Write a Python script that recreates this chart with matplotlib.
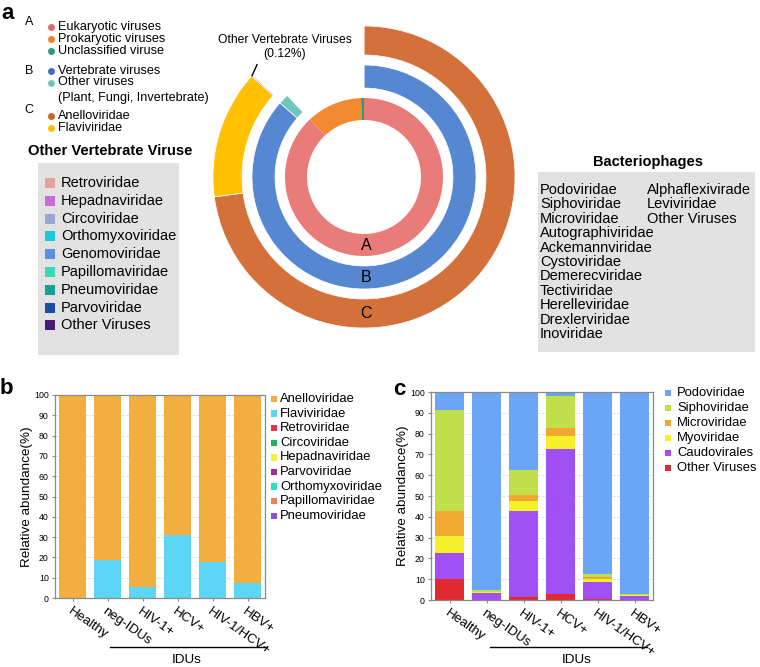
import matplotlib
matplotlib.use("Agg")
import matplotlib.pyplot as plt
from matplotlib.patches import Rectangle
import numpy as np

plt.rcParams['font.family'] = ['Liberation Sans', 'DejaVu Sans']

# ---- panel a : nested donut (percent of full circle, last = blank) ----
ring_a_vals = [88.0, 11.4, 0.6]
ring_a_cols = ['#E97B79', '#F28A32', '#2A9A80']
ring_b_vals = [86.5, 1.5, 12.0]
ring_b_cols = ['#5588D0', '#6CC9B9', 'none']
ring_c_vals = [72.9, 13.75, 0.12, 13.23]
ring_c_cols = ['#D4713A', '#FFC000', '#3A5A90', 'none']

top_legend = [('A', [('Eukaryotic viruses', '#E0686C'), ('Prokaryotic viruses', '#F07E2E'),
                     ('Unclassified viruse', '#2A9A80')]),
              ('B', [('Vertebrate viruses', '#3F6FC8'),
                     ('Other viruses\n(Plant, Fungi, Invertebrate)', '#6CC9B9')]),
              ('C', [('Anelloviridae', '#D0602E'), ('Flaviviridae', '#FFC000')])]

other_vert = ['Retroviridae', 'Hepadnaviridae', 'Circoviridae', 'Orthomyxoviridae',
              'Genomoviridae', 'Papillomaviridae', 'Pneumoviridae', 'Parvoviridae',
              'Other Viruses']
other_vert_cols = ['#E5A0A0', '#C86DD7', '#9BA6D4', '#1FC8D8', '#5B8EDE', '#3AD8B8',
                   '#17A09A', '#1A4FA0', '#4A1A7A']
phages_col1 = ['Podoviridae', 'Siphoviridae', 'Microviridae', 'Autographiviridae',
               'Ackemannviridae', 'Cystoviridae', 'Demerecviridae', 'Tectiviridae',
               'Herelleviridae', 'Drexlerviridae', 'Inoviridae']
phages_col2 = ['Alphaflexivirade', 'Leviviridae', 'Other Viruses']

# ---- panels b, c ----
groups = ['Healthy', 'neg-IDUs', 'HIV-1+', 'HCV+', 'HIV-1/HCV+', 'HBV+']

b_names = ['Anelloviridae', 'Flaviviridae', 'Retroviridae', 'Circoviridae', 'Hepadnaviridae',
           'Parvoviridae', 'Orthomyxoviridae', 'Papillomaviridae', 'Pneumoviridae']
b_cols = ['#F2AE3F', '#5DD5F5', '#E8343C', '#2BB05A', '#F5F03A', '#A52A9A', '#2EE0B8',
          '#F08050', '#8B50E0']
flavi = [0.0, 18.9, 5.6, 30.8, 17.5, 7.4]
b_vals = {'Anelloviridae': [100 - v for v in flavi], 'Flaviviridae': flavi}
for n in b_names[2:]:
    b_vals[n] = [0, 0, 0, 0, 0, 0]

c_names = ['Podoviridae', 'Siphoviridae', 'Microviridae', 'Myoviridae', 'Caudovirales',
           'Other Viruses']
c_cols = ['#6AA6F5', '#BFE04A', '#F0A830', '#F5F02A', '#A050F5', '#E02A30']
c_vals = {
    'Other Viruses': [10.1, 0.2, 1.3, 3.0, 0.5, 0.1],
    'Caudovirales':  [12.6, 3.2, 41.4, 69.8, 8.3, 2.0],
    'Myoviridae':    [8.0, 0.4, 4.8, 5.9, 1.1, 0.2],
    'Microviridae':  [12.2, 0.2, 3.2, 4.0, 1.0, 0.1],
    'Siphoviridae':  [48.3, 0.6, 12.0, 15.4, 1.6, 0.3],
    'Podoviridae':   [8.8, 95.4, 37.3, 1.9, 87.5, 97.3],
}

fig = plt.figure(figsize=(7.6, 6.67), dpi=100)

# overlay in pixel coords for legends / annotations
ov = fig.add_axes([0, 0, 1, 1])
ov.set_xlim(0, 760)
ov.set_ylim(667, 0)
ov.axis('off')

# donut
ax = fig.add_axes([204 / 760, 1 - 337 / 667, 320 / 760, 320 / 667])
wp = dict(edgecolor='white', linewidth=0.5)
ax.pie(ring_c_vals, radius=151, colors=ring_c_cols, startangle=90, counterclock=False,
       wedgeprops=dict(width=29, **wp))
ax.pie(ring_b_vals, radius=112, colors=ring_b_cols, startangle=90, counterclock=False,
       wedgeprops=dict(width=23, **wp))
ax.pie(ring_a_vals, radius=79, colors=ring_a_cols, startangle=90, counterclock=False,
       wedgeprops=dict(width=22, linewidth=0))
ax.set_xlim(-160, 160)
ax.set_ylim(-160, 160)
ax.set_aspect('equal')
ax.axis('off')
for lab, r in [('A', 68), ('B', 100.5), ('C', 136.5)]:
    ax.text(2, -r, lab, ha='center', va='center', fontsize=11.5)
# leader for the tiny "other vertebrate" slice
ang = np.deg2rad(90 - 3.6 * (ring_c_vals[0] + ring_c_vals[1] + ring_c_vals[2] / 2))
px, py = 151 * np.cos(ang), 151 * np.sin(ang)
ax.plot([px, px + 5], [py, py + 11], color='black', lw=1)
ov.text(285, 47, 'Other Vertebrate Viruses\n(0.12%)', ha='center', va='center',
        fontsize=8.7, linespacing=1.15)

# top-left legend
ov.text(1, 19, 'a', fontsize=16, fontweight='bold', va='baseline')
rows = {'A': [27, 39, 51], 'B': [71, 83], 'C': [116, 128]}
letter_y = {'A': 22, 'B': 71, 'C': 110}
for letter, items in top_legend:
    ov.text(29, letter_y[letter], letter, ha='center', va='center', fontsize=9)
    for (name, col), y in zip(items, rows[letter]):
        ov.plot(51, y, 'o', color=col, ms=5, mec='none')
        if '\n' in name:
            ov.text(58, y - 7, name, va='top', fontsize=9.1, linespacing=1.45)
        else:
            ov.text(58, y, name, va='center', fontsize=9.1)

# other vertebrate viruses box
ov.text(110, 151, 'Other Vertebrate Viruse', ha='center', va='center', fontsize=10.6,
        fontweight='bold')
ov.add_patch(Rectangle((38, 163), 141, 192, color='#E2E2E2', lw=0))
for i, (name, col) in enumerate(zip(other_vert, other_vert_cols)):
    y = 183 + i * 17.8
    ov.add_patch(Rectangle((45, y - 5), 10, 10, color=col, lw=0))
    ov.text(61, y, name, va='center', fontsize=10.5)

# bacteriophages box
ov.text(648, 162, 'Bacteriophages', ha='center', va='center', fontsize=10.5, fontweight='bold')
ov.add_patch(Rectangle((538, 172), 217, 180, color='#E2E2E2', lw=0))
for i, name in enumerate(phages_col1):
    ov.text(540, 190 + i * 14.4, name, va='center', fontsize=10.5)
for i, name in enumerate(phages_col2):
    ov.text(647, 190 + i * 14.4, name, va='center', fontsize=10.5)


def bar_panel(rect, names, cols, vals, stack_order):
    a = fig.add_axes(rect)
    x = np.arange(len(groups))
    bottom = np.zeros(len(groups))
    for n in stack_order:
        v = np.array(vals[n], dtype=float)
        a.bar(x, v, bottom=bottom, width=0.77, color=cols[names.index(n)], lw=0, zorder=2)
        bottom += v
    a.set_xlim(-0.5, len(groups) - 0.5)
    a.set_ylim(0, 100)
    a.set_yticks(np.arange(0, 101, 10))
    a.yaxis.grid(True, ls='--', color='#DDDDDD', lw=0.6, zorder=0)
    a.set_axisbelow(True)
    for s in a.spines.values():
        s.set_color('#8A8A8A')
        s.set_linewidth(0.9)
    a.tick_params(axis='y', labelsize=6.3, length=2.5, color='#8A8A8A', pad=2)
    a.tick_params(axis='x', length=2.5, color='#8A8A8A', pad=3)
    a.set_xticks(x)
    a.set_xticklabels(groups, rotation=-35, ha='left', rotation_mode='anchor', fontsize=9.6)
    a.set_ylabel('Relative abundance(%)', fontsize=9.7, labelpad=0.5)
    return a


axb = bar_panel([55 / 760, 1 - 598 / 667, 210 / 760, 203 / 667], b_names, b_cols, b_vals,
                b_names[::-1])
axc = bar_panel([431 / 760, 1 - 600 / 667, 222 / 760, 208 / 667], c_names, c_cols, c_vals,
                c_names[::-1])

ov.text(0, 394, 'b', fontsize=16, fontweight='bold', va='baseline')
ov.text(393, 395, 'c', fontsize=16, fontweight='bold', va='baseline')

for i, (n, col) in enumerate(zip(b_names, b_cols)):
    y = 399 + i * 14.6
    ov.add_patch(Rectangle((271, y - 3.2), 6.4, 6.4, color=col, lw=0))
    ov.text(280, y, n, va='center', fontsize=9.4)
for i, (n, col) in enumerate(zip(c_names, c_cols)):
    y = 393 + i * 15
    ov.add_patch(Rectangle((665, y - 3.2), 6.4, 6.4, color=col, lw=0))
    ov.text(677, y, n, va='center', fontsize=9.4)

# IDUs brackets
for x0, x1, xt in [(110, 267, 187), (490, 647, 577)]:
    ov.plot([x0, x1], [647, 647], color='black', lw=1)
    ov.text(xt, 660, 'IDUs', ha='center', va='center', fontsize=9.7)

fig.savefig('out.png', dpi=100)
